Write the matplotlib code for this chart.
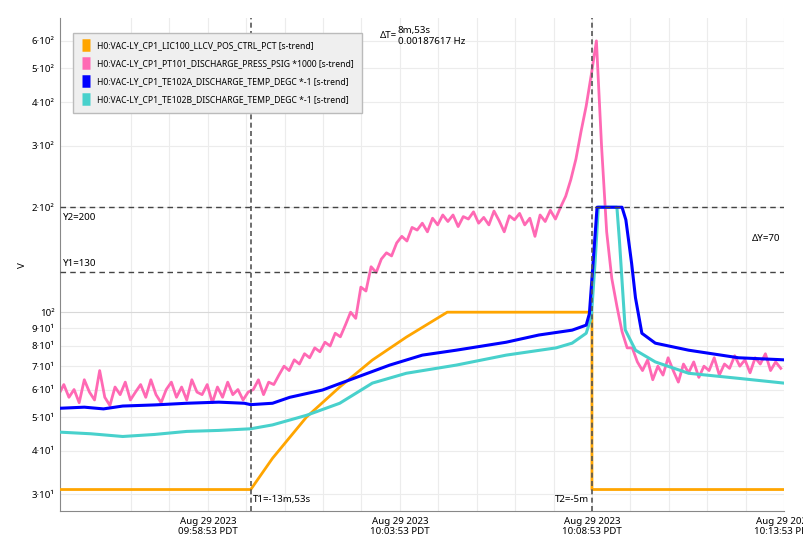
import matplotlib.pyplot as plt
import numpy as np
from matplotlib.ticker import FixedLocator, NullFormatter

# time axis: seconds since 09:55:00 PDT
PINK_STEP = 8
pink_vals = [
    58, 62, 57, 60, 55, 64, 59, 56, 68, 57, 54, 61, 58, 63, 56, 59, 62, 57, 64, 58,
    55, 60, 63, 57, 61, 56, 64, 59, 58, 62, 55, 61, 57, 63, 58, 60, 56, 59,
    60, 64, 58, 63, 62, 66, 70, 68, 73, 71, 76, 74, 79, 77, 82, 80, 87, 85, 92, 100,
    96, 118, 115, 135, 130, 142, 148, 145, 158, 165, 160, 175, 172, 180, 170, 186, 178, 190,
    182, 190, 176, 188, 185, 194, 180, 187, 178, 195, 183, 170, 189, 184, 192, 178, 186, 165,
    190, 182, 196, 185, 200, 215, 240, 275, 330, 390, 480,
    600, 300, 170, 125, 104, 88, 79, 79, 72, 68, 73, 64, 70, 66, 74, 68, 63, 71, 67, 72,
    65, 70, 68, 74, 66, 71, 69, 75, 70, 73, 67, 74, 71, 76, 68, 72, 69,
]
pink_t = np.arange(len(pink_vals)) * PINK_STEP

blue_t = [0, 40, 70, 100, 150, 200, 250, 290, 300, 334, 361, 412, 465, 517, 568, 621, 699,
          750, 802, 824, 829, 835, 841, 880, 886, 895, 901, 911, 932, 984, 1062, 1133]
blue_vals = [53.0, 53.4, 52.8, 53.8, 54.2, 54.8, 55.2, 54.8, 54.3, 54.8, 57, 59.8, 65, 70.5,
             75.3, 77.8, 82, 86, 88.8, 91.8, 99, 140, 200, 200, 184, 138, 110, 87, 81.5,
             77.8, 74, 73]

teal_t = [0, 50, 100, 150, 200, 250, 300, 334, 387, 439, 490, 543, 621, 699, 777, 802, 824,
          832, 838, 843, 872, 876, 880, 885, 901, 932, 984, 1062, 1133]
teal_vals = [45.3, 44.8, 44.0, 44.6, 45.5, 45.8, 46.3, 47.5, 50.6, 54.8, 62.6, 66.8, 70.5,
             75.3, 79, 81.5, 87, 96.8, 140, 200, 200, 160, 123, 89, 77.8, 72, 66.8, 64.6, 62.6]

orange_t = [0, 300, 334, 387, 439, 490, 543, 607, 833, 833, 1133]
orange_vals = [31, 31, 38.1, 50, 61, 72.9, 84.8, 100, 100, 31, 31]

legend_labels = [
    "H0:VAC-LY_CP1_LIC100_LLCV_POS_CTRL_PCT [s-trend]",
    "H0:VAC-LY_CP1_PT101_DISCHARGE_PRESS_PSIG *1000 [s-trend]",
    "H0:VAC-LY_CP1_TE102A_DISCHARGE_TEMP_DEGC *-1 [s-trend]",
    "H0:VAC-LY_CP1_TE102B_DISCHARGE_TEMP_DEGC *-1 [s-trend]",
]
colors = ["#FFA500", "#FF69B4", "#0000FF", "#48D1CC"]

xtick_pos = [233, 533, 833, 1133]
xtick_labels = ["Aug 29 2023\n09:58:53 PDT", "Aug 29 2023\n10:03:53 PDT",
                "Aug 29 2023\n10:08:53 PDT", "Aug 29 2023\n10:13:53 PDT"]
ytick_vals = [30, 40, 50, 60, 70, 80, 90, 100, 200, 300, 400, 500, 600]
ytick_labels = ["3·10¹", "4·10¹", "5·10¹", "6·10¹", "7·10¹", "8·10¹", "9·10¹", "10²",
                "2·10²", "3·10²", "4·10²", "5·10²", "6·10²"]

T1, T2 = 300, 833
Y1, Y2 = 130, 200

plt.rcParams["font.family"] = ["Noto Sans", "DejaVu Sans"]

fig = plt.figure(figsize=(8.04, 5.51), dpi=100)
ax = fig.add_axes([0.0746, 0.0726, 0.9005, 0.894])
ax.set_yscale("log")
ax.set_xlim(2, 1133)
ax.set_ylim(26.9, 696)

# grid
for gx in np.arange(113, 1134, 60):
    ax.axvline(gx, color="#ececec", lw=0.8, zorder=0)
for gy in ytick_vals:
    ax.axhline(gy, color="#d8d8d8" if gy == 100 else "#ececec", lw=0.8, zorder=0)

ax.plot(orange_t, orange_vals, color=colors[0], lw=2, label=legend_labels[0], zorder=3)
ax.plot(pink_t, pink_vals, color=colors[1], lw=2, label=legend_labels[1], zorder=2)
ax.plot(blue_t, blue_vals, color=colors[2], lw=2.2, label=legend_labels[2], zorder=4)
ax.plot(teal_t, teal_vals, color=colors[3], lw=2.2, label=legend_labels[3], zorder=3)

# cursors
for t in (T1, T2):
    ax.axvline(t, color="#555555", lw=1.2, ls=(0, (3, 2)), zorder=5)
for y in (Y1, Y2):
    ax.axhline(y, color="#444444", lw=1.0, ls=(0, (4, 3)), zorder=5)

ax.text(T1 + 4, 28.2, "T1=-13m,53s", fontsize=7, va="bottom")
ax.text(T2 - 5, 28.2, "T2=-5m", fontsize=7, va="bottom", ha="right")
ax.text(7, Y2 * 0.965, "Y2=200", fontsize=7, va="top")
ax.text(7, Y1 * 1.03, "Y1=130", fontsize=7, va="bottom")
ax.text(1128, 163, "ΔY=70", fontsize=7, ha="right", va="center")
ax.text(528, 620, "ΔT=", fontsize=7, ha="right", va="center")
ax.text(530, 620, "8m,53s\n0.00187617 Hz", fontsize=7, ha="left", va="center",
        linespacing=1.4)

ax.xaxis.set_major_locator(FixedLocator(xtick_pos))
ax.set_xticklabels(xtick_labels, fontsize=7)
ax.yaxis.set_major_locator(FixedLocator(ytick_vals))
ax.yaxis.set_minor_formatter(NullFormatter())
ax.yaxis.set_minor_locator(FixedLocator([]))
ax.set_yticklabels(ytick_labels, fontsize=7)
ax.get_yticklabels()[7].set_fontweight("bold")
ax.tick_params(length=0, pad=4)
fig.text(23 / 804, 1 - 265 / 551, "V", fontsize=7, rotation=90, ha="center", va="center")

for side in ("top", "right"):
    ax.spines[side].set_visible(False)
for side in ("left", "bottom"):
    ax.spines[side].set_color("#888888")

leg = ax.legend(loc="upper left", bbox_to_anchor=(0.012, 0.98), fontsize=6.2,
                handlelength=1.0, handleheight=1.0, borderpad=1.0,
                labelspacing=1.05, fancybox=False, framealpha=1)
leg.get_frame().set_facecolor("#efefef")
leg.get_frame().set_edgecolor("#bbbbbb")
for h, c in zip(leg.legend_handles, colors):
    h.set_linewidth(9)
    h.set_solid_capstyle("butt")

fig.savefig("out.png", dpi=100)
